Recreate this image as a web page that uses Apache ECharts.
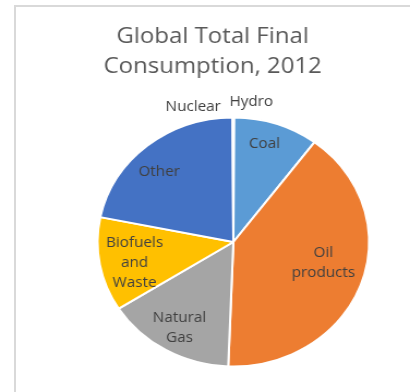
<!DOCTYPE html>
<html>
<head>
<meta charset="utf-8">
<script src="https://cdn.jsdelivr.net/npm/echarts@6/dist/echarts.min.js"></script>
<style>
  html, body { margin: 0; padding: 0; background: #fff; overflow: hidden; }
  #frame { position: absolute; left: 14px; top: 5px; width: 500px; height: 500px;
           border-left: 2px solid #d9d9d9; border-top: 2px solid #d9d9d9; }
  /* the source picture is a pie stretched a little wider than tall */
  #main { position: absolute; left: 0; top: 0; width: 376px; height: 392px;
          transform: scaleX(1.0904); transform-origin: 0 0; }
</style>
</head>
<body>
<div id="frame"></div>
<div id="main"></div>
<script>
// Global TFC 2012, share in %
const categories = ["Hydro", "Coal", "Oil\nproducts", "Natural\nGas", "Biofuels\nand\nWaste", "Other", "Nuclear"];
const shares = [0.1, 10.1, 40.4, 15.4, 12.2, 21.7, 0.1];
const colors = ["#70ad47", "#5b9bd5", "#ed7d31", "#a5a5a5", "#ffc000", "#4472c4", "#264478"];
// tiny slices, labelled outside the pie
const outsideNames = ["Hydro", "Nuclear"];

const center = [214, 242];
const radius = 124.5;
const labelFont = { fontFamily: "Open Sans", fontSize: 14, color: "#404040" };

// small nudges [dx, dy] so the inside labels sit where Excel put them
const labelNudge = {
  "Coal": [-3, -4],
  "Oil\nproducts": [-11, -12],
  "Biofuels\nand\nWaste": [7, 3],
  "Other": [-5, 7]
};

const pieData = categories.map((name, i) => ({
  name: name,
  value: shares[i],
  itemStyle: { color: colors[i] }
}));

const chart = echarts.init(document.getElementById("main"));
chart.setOption({
  animation: false,
  title: {
    text: "Global Total Final\nConsumption, 2012",
    left: 190,
    top: 17,
    textAlign: "center",
    textStyle: {
      fontFamily: "Open Sans",
      fontSize: 22,
      fontWeight: "normal",
      color: "#595959",
      lineHeight: 30
    }
  },
  series: [
    {
      type: "pie",
      center: center,
      radius: [0, radius],
      startAngle: 90,
      clockwise: true,
      avoidLabelOverlap: false,
      itemStyle: { borderColor: "#fff", borderWidth: 2 },
      label: { show: false },
      labelLine: { show: false },
      data: pieData.map((d) => {
        const isHydro = d.name === "Hydro";
        return {
          ...d,
          label: outsideNames.includes(d.name)
            ? { show: true, position: "outside", distanceToLabelLine: isHydro ? -4 : 11, ...labelFont }
            : { show: false },
          labelLine: { show: false, length: isHydro ? 15 : 10, length2: 0 }
        };
      })
    },
    {
      // transparent ring, only used to place the inside labels
      type: "pie",
      center: center,
      radius: [68, radius],
      startAngle: 90,
      clockwise: true,
      silent: true,
      itemStyle: { color: "rgba(0,0,0,0)" },
      label: { show: true, position: "inside", lineHeight: 20, ...labelFont },
      labelLine: { show: false },
      labelLayout: (params) => {
        const n = labelNudge[categories[params.dataIndex]];
        return n ? { dx: n[0], dy: n[1] } : {};
      },
      data: pieData.map((d) => ({
        name: d.name,
        value: d.value,
        label: { show: !outsideNames.includes(d.name) }
      }))
    }
  ]
});
</script>
</body>
</html>
